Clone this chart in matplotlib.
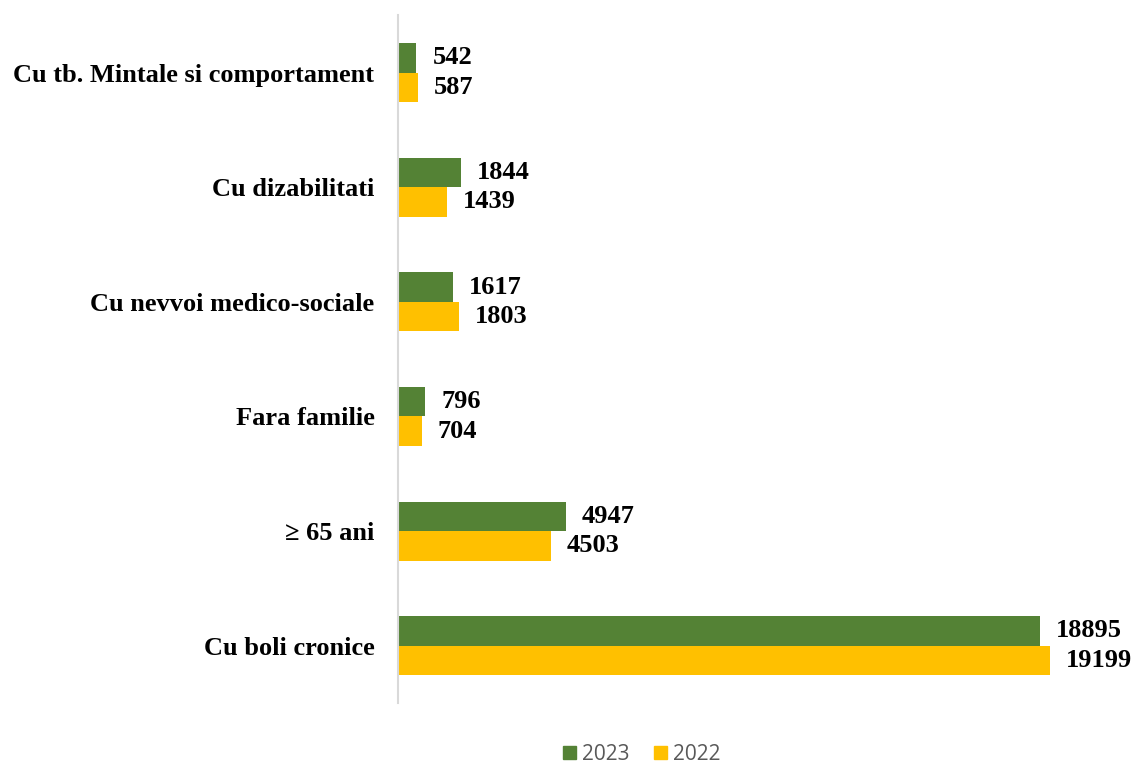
import numpy as np
import matplotlib.pyplot as plt
from matplotlib.patches import Patch

# categories from top to bottom
categories = ['Cu tb. Mintale si comportament', 'Cu dizabilitati', 'Cu nevvoi medico-sociale',
              'Fara familie', '\u2265 65 ani', 'Cu boli cronice']
vals_2023 = [542, 1844, 1617, 796, 4947, 18895]
vals_2022 = [587, 1439, 1803, 704, 4503, 19199]

green = '#548235'
yellow = '#FFC000'
serif = ['Liberation Serif', 'DejaVu Serif']

fig = plt.figure(figsize=(11.34, 7.63), dpi=100)
ax = fig.add_axes([0.351, 0.0786, 0.629, 0.9014])

y = np.arange(len(categories))
h = 0.257
ax.barh(y - h / 2, vals_2023, height=h, color=green, label='2023')
ax.barh(y + h / 2, vals_2022, height=h, color=yellow, label='2022')

ax.set_ylim(len(categories) - 0.5, -0.5)
ax.set_xlim(0, 21000)

for yy, v in zip(y - h / 2, vals_2023):
    ax.annotate(str(v), (v, yy), xytext=(11.5, 0), textcoords='offset points', va='center', ha='left',
                fontsize=19, fontweight='bold', family=serif)
for yy, v in zip(y + h / 2, vals_2022):
    ax.annotate(str(v), (v, yy), xytext=(11.5, 0), textcoords='offset points', va='center', ha='left',
                fontsize=19, fontweight='bold', family=serif)

ax.set_yticks(y)
ax.set_yticklabels(categories, fontsize=19, fontweight='bold', family=serif)
ax.tick_params(axis='y', length=0, pad=17)
ax.set_xticks([])

for s in ['top', 'right', 'bottom']:
    ax.spines[s].set_visible(False)
ax.spines['left'].set_color('#D9D9D9')
ax.spines['left'].set_linewidth(1.5)

handles = [Patch(color=green, label='2023'), Patch(color=yellow, label='2022')]
fig.legend(handles=handles, loc='center', bbox_to_anchor=(0.566, 0.011), ncol=2, frameon=False,
           prop={'family': 'Open Sans', 'size': 15}, labelcolor='#595959',
           handlelength=0.6, handleheight=0.6, handletextpad=0.3, columnspacing=1.2)

fig.savefig('out.png', dpi=100)
